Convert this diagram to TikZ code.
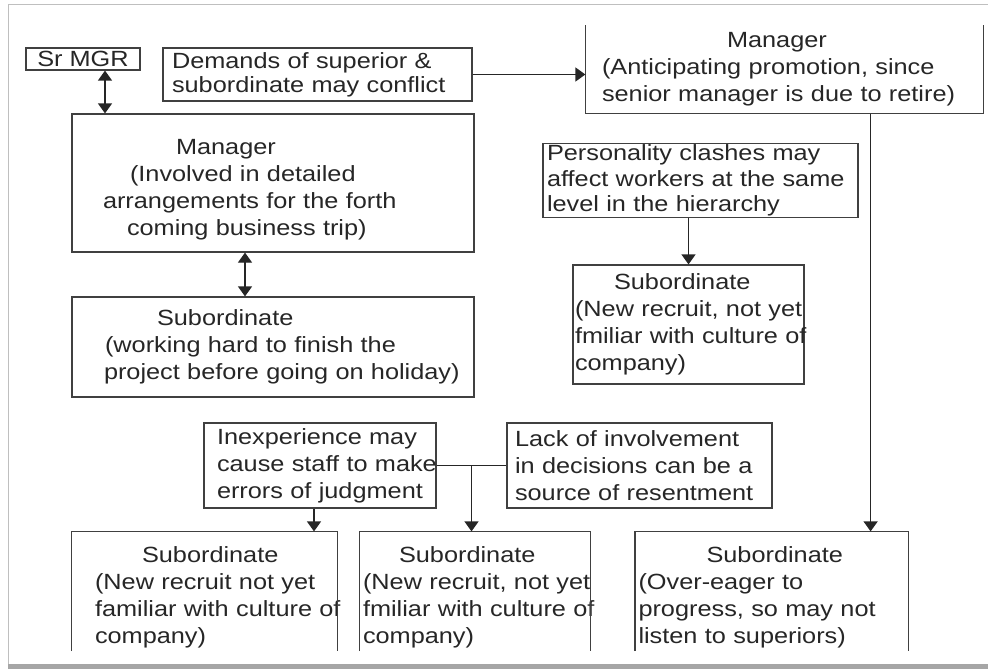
\documentclass[tikz,border=0pt]{standalone}
\usepackage{fontspec}
\setmainfont{Liberation Sans}[FakeStretch=1.15]
\usepackage{tikz}
\usetikzlibrary{arrows.meta,calc}
\newcommand{\txtrow}[2]{\mbox{\hspace*{#1pt}#2}}

\begin{document}
\begin{tikzpicture}[x=1pt,y=-1pt,line width=1.2pt,>={Triangle[length=10pt,width=14pt]}]
  \tikzstyle{box line}=[draw=black!75,line width=1.2pt]
  \tikzstyle{every box}=[box line,text=black!85,align=left,inner xsep=4pt,inner ysep=2pt,font=\fontsize{22}{27}\selectfont]
  \tikzstyle{open box}=[every box,draw=none]
  \tikzstyle{link}=[draw=black!85]

  % page frame
  \useasboundingbox (0,0) rectangle (988,669);
  \draw[black!25,line width=1pt] (8,665) -- (8,5) -- (988,5);
  \fill[black!35] (8,664) rectangle (988,669);

  % top row
  \node[every box,inner ysep=2pt,minimum width=114pt,minimum height=22pt] (srmgr) at (83,59) {Sr MGR};
  \node[every box,minimum width=309pt,minimum height=53pt,text width=301pt,font=\fontsize{22}{24}\selectfont] (demands) at (317.5,74.5)
    {\txtrow{5}{Demands of superior \&}\\\txtrow{5}{subordinate may conflict}};
  \node[open box,minimum width=397pt,minimum height=87pt,text width=389pt] (mgrtop) at (784.5,69.5)
    {\txtrow{137}{Manager}\\\txtrow{12}{(Anticipating promotion, since}\\\txtrow{12}{senior manager is due to retire)}};
  \draw[box line] (mgrtop.north west) -- (mgrtop.south west) -- (mgrtop.south east) -- (mgrtop.north east);

  % left column
  \node[every box,minimum width=402pt,minimum height=138pt,text width=394pt,text height=28pt] (mgrleft) at (273,183)
    {\txtrow{100}{Manager}\\\txtrow{54}{(Involved in detailed}\\\txtrow{27}{arrangements for the forth}\\\txtrow{51}{coming business trip)}};
  \node[every box,minimum width=402pt,minimum height=100pt,text width=394pt] (subleft) at (273,347)
    {\txtrow{81}{Subordinate}\\\txtrow{29}{(working hard to finish the}\\\txtrow{28}{project before going on holiday)}};

  % right column
  \node[every box,inner ysep=1pt,minimum width=315pt,minimum height=73pt,text width=307pt,font=\fontsize{22}{25.5}\selectfont] (clash) at (700.5,180.5)
    {Personality clashes may\\affect workers at the same\\level in the hierarchy};
  \node[every box,minimum width=231pt,minimum height=119pt,text width=223pt] (subnew) at (688.5,324.5)
    {\txtrow{37}{Subordinate}\\\txtrow{-2}{(New recruit, not yet}\\\txtrow{-2}{fmiliar with culture of}\\\txtrow{-2}{company)}};

  % causes
  \node[every box,minimum width=232pt,minimum height=85pt,text width=224pt] (inexp) at (320,465.5)
    {\txtrow{9}{Inexperience may}\\\txtrow{9}{cause staff to make}\\\txtrow{9}{errors of judgment}};
  \node[every box,minimum width=265pt,minimum height=85pt,text width=257pt] (lack) at (639.5,465.5)
    {\txtrow{4}{Lack of involvement}\\\txtrow{4}{in decisions can be a}\\\txtrow{4}{source of resentment}};

  % bottom row, cut off at the lower edge
  \coordinate (cut) at (0,651);
  \node[open box,minimum width=265pt,minimum height=131pt,text width=257pt] (subA) at (204.5,597.5)
    {\txtrow{66}{Subordinate}\\\txtrow{19}{(New recruit not yet}\\\txtrow{19}{familiar with culture of}\\\txtrow{19}{company)}};
  \node[open box,minimum width=230pt,minimum height=131pt,text width=222pt] (subB) at (475,597.5)
    {\txtrow{35}{Subordinate}\\\txtrow{-1}{(New recruit, not yet}\\\txtrow{-1}{fmiliar with culture of}\\\txtrow{-1}{company)}};
  \node[open box,minimum width=272.5pt,minimum height=131pt,text width=264.5pt] (subC) at (771.75,597.5)
    {\txtrow{67}{Subordinate}\\\txtrow{-1}{(Over-eager to}\\\txtrow{-1}{progress, so may not}\\\txtrow{-1}{listen to superiors)}};
  \foreach \n in {subA,subB,subC}
    \draw[box line] (\n.north west |- cut) -- (\n.north west) -- (\n.north east) -- (\n.north east |- cut);

  % connections
  \draw[link,<->] ([xshift=22pt]srmgr.south) -- ([xshift=22pt]srmgr.south |- mgrleft.north);
  \draw[link,->] (demands.east) -- (demands.east -| mgrtop.west);
  \draw[link,<->] ([xshift=-28pt]mgrleft.south) -- ([xshift=-28pt]mgrleft.south |- subleft.north);
  \draw[link,->] ([xshift=-38pt]subC.north east |- mgrtop.south) -- ([xshift=-38pt]subC.north east);
  \draw[link,->] (subnew.north |- clash.south) -- (subnew.north);
  \draw[link,->] ([xshift=-6pt]inexp.south) -- ([xshift=-6pt]inexp.south |- subA.north);
  \coordinate (join) at ($(inexp.east)!0.5!(lack.west)$);
  \draw[link] (inexp.east) -- (lack.west);
  \draw[link,->] (join) -- (join |- subB.north);
\end{tikzpicture}
\end{document}
